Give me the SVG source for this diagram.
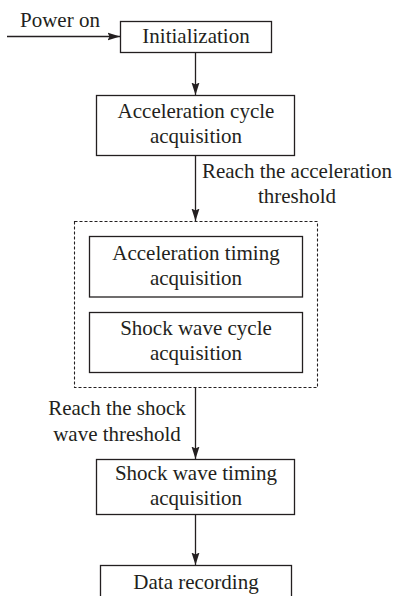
<svg xmlns="http://www.w3.org/2000/svg" width="397" height="596" viewBox="0 0 397 596">
  <style>
    .box { fill: #ffffff; stroke: #231f20; stroke-width: 1.3; }
    .group { fill: none; stroke: #231f20; stroke-width: 1.1; stroke-dasharray: 3 2; }
    .wire { fill: none; stroke: #231f20; stroke-width: 1.3; marker-end: url(#arrow); }
    text { font-family: 'Liberation Serif', 'DejaVu Serif', serif; font-size: 21px; fill: #231f20; }
    .c { text-anchor: middle; }
  </style>
  <defs>
    <marker id="arrow" markerUnits="userSpaceOnUse" markerWidth="13" markerHeight="9" viewBox="0 0 13 9" refX="12.5" refY="4.5" orient="auto">
      <path d="M0,0.5 L12.5,4.5 L0,8.5 L2,4.5 Z" fill="#231f20"/>
    </marker>
  </defs>

  <rect width="397" height="596" fill="#ffffff"/>

  <!-- connectors and their labels -->
  <g id="connectors">
    <line class="wire" x1="7" y1="36.5" x2="120" y2="36.5"/>
    <line class="wire" x1="195.5" y1="52.5" x2="195.5" y2="95"/>
    <line class="wire" x1="195.5" y1="155.5" x2="195.5" y2="221"/>
    <line class="wire" x1="195.5" y1="387.5" x2="195.5" y2="459"/>
    <line class="wire" x1="195.5" y1="514.5" x2="195.5" y2="565"/>
    <text x="20" y="27">Power on</text>
    <text class="c" x="297" y="178">Reach the acceleration</text>
    <text class="c" x="297" y="203">threshold</text>
    <text class="c" x="117" y="415">Reach the shock</text>
    <text class="c" x="117" y="440.5">wave threshold</text>
  </g>

  <g id="init">
    <rect class="box" x="120.5" y="21.5" width="151" height="31"/>
    <text class="c" x="196" y="43">Initialization</text>
  </g>

  <g id="accel-cycle">
    <rect class="box" x="96.5" y="95.5" width="198" height="60"/>
    <text class="c" x="196" y="118">Acceleration cycle</text>
    <text class="c" x="196" y="143">acquisition</text>
  </g>

  <g id="parallel-stage">
    <rect class="group" x="74.5" y="221.5" width="243" height="166"/>
  </g>

  <g id="accel-timing">
    <rect class="box" x="89.5" y="236.5" width="213" height="60.5"/>
    <text class="c" x="196" y="260">Acceleration timing</text>
    <text class="c" x="196" y="285">acquisition</text>
  </g>

  <g id="shock-cycle">
    <rect class="box" x="89.5" y="312.5" width="213" height="60"/>
    <text class="c" x="196" y="335">Shock wave cycle</text>
    <text class="c" x="196" y="360">acquisition</text>
  </g>

  <g id="shock-timing">
    <rect class="box" x="96.5" y="459.5" width="198" height="55"/>
    <text class="c" x="196" y="480">Shock wave timing</text>
    <text class="c" x="196" y="505">acquisition</text>
  </g>

  <g id="data-recording">
    <rect class="box" x="100.5" y="565.5" width="191" height="40"/>
    <text class="c" x="196" y="589">Data recording</text>
  </g>
</svg>
